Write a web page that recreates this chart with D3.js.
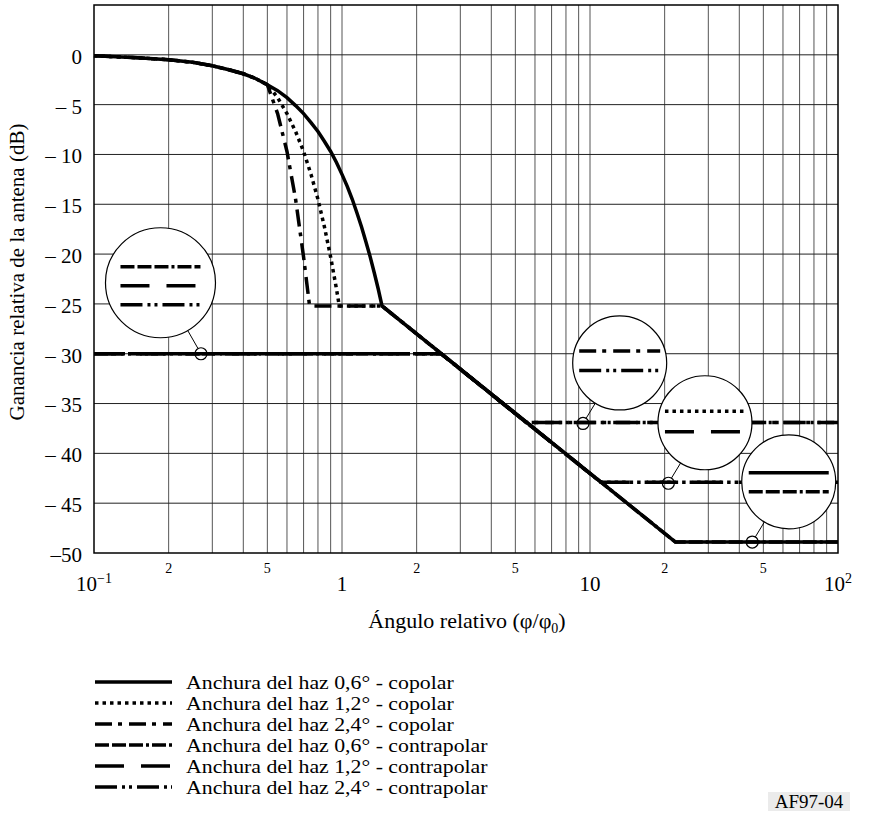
<!doctype html>
<html>
<head>
<meta charset="utf-8">
<script src="https://d3js.org/d3.v7.min.js"></script>
<style>
  body { margin: 0; background: #fff; }
  svg text { font-family: "Liberation Serif", "Times New Roman", serif; fill: #000; }
</style>
</head>
<body>
<div id="chart"></div>
<script>
// values: [phi/phi0, gain dB]
var co06 = [[0.1,-0.1],[0.15,-0.3],[0.2,-0.5],[0.25,-0.75],[0.3,-1.1],[0.35,-1.5],[0.4,-1.9],[0.45,-2.4],
  [0.5,-3.0],[0.55,-3.6],[0.6,-4.3],[0.65,-5.1],[0.7,-5.9],[0.75,-6.8],[0.8,-7.7],[0.85,-8.7],[0.9,-9.7],
  [0.95,-10.8],[1.0,-12.0],[1.05,-13.2],[1.1,-14.5],[1.15,-15.9],[1.2,-17.3],[1.25,-18.8],[1.3,-20.3],
  [1.35,-21.9],[1.4,-23.5],[1.45,-25.2],[22.1,-48.9],[100,-48.9]]
var co12 = [[0.1,-0.1],[0.15,-0.3],[0.2,-0.5],[0.25,-0.75],[0.3,-1.1],[0.35,-1.5],[0.4,-1.9],[0.45,-2.4],
  [0.5,-3.0],[0.55,-4.3],[0.6,-5.9],[0.65,-7.7],[0.7,-9.7],[0.75,-12.0],[0.8,-14.5],[0.85,-17.3],
  [0.9,-20.3],[0.95,-23.5],[0.975,-25.2],[1.45,-25.2],[11.05,-42.9],[100,-42.9]]
var co24 = [[0.1,-0.1],[0.15,-0.3],[0.2,-0.5],[0.25,-0.75],[0.3,-1.1],[0.35,-1.5],[0.4,-1.9],[0.45,-2.4],
  [0.5,-3.0],[0.55,-5.9],[0.6,-9.7],[0.65,-14.5],[0.7,-20.3],[0.74,-25.2],[1.45,-25.2],[5.53,-36.9],[100,-36.9]]
var cx06 = [[0.1,-30],[2.51,-30],[22.1,-48.9],[100,-48.9]]
var cx12 = [[0.1,-30],[2.51,-30],[11.05,-42.9],[100,-42.9]]
var cx24 = [[0.1,-30],[2.51,-30],[5.53,-36.9],[100,-36.9]]

var yTicks = [0,-5,-10,-15,-20,-25,-30,-35,-40,-45,-50]
var yTickLabels = ["0","– 5","– 10","– 15","– 20","– 25","– 30","– 35","– 40","– 45","–50"]
var xMinorTicks = [0.2,0.5,2,5,20,50]
var xMinorLabels = ["2","5","2","5","2","5"]
var xMajorTicks = [0.1,1,10,100]
var xMajorBase = ["10","1","10","10"]
var xMajorExp = ["−1","","","2"]
var legendLabels = ["Anchura del haz 0,6° - copolar","Anchura del haz 1,2° - copolar","Anchura del haz 2,4° - copolar",
  "Anchura del haz 0,6° - contrapolar","Anchura del haz 1,2° - contrapolar","Anchura del haz 2,4° - contrapolar"]

var width = 869, height = 825

var svg = d3.select("#chart").append("svg")
  .attr("width", width).attr("height", height)

var x = d3.scaleLog().domain([0.1, 100]).range([94, 838])
var y = d3.scaleLinear().domain([-50, 5]).range([553, 5])

// line styles
var dashes = ["none", "3.5,4", "17,6,4,7", "14,3,14,3,14,3,3,3", "29,17", "22,5,3,4,3,5"]
var series = [cx06, cx12, cx24, co06, co12, co24]
var seriesStyle = [3, 4, 5, 0, 1, 2]

// grid
var grid = svg.append("g")
grid.selectAll("line.v").data(x.ticks().filter(function(d){ return d > 0.1 && d < 100 }))
  .enter().append("line")
  .attr("x1", function(d){ return x(d) }).attr("x2", function(d){ return x(d) })
  .attr("y1", y(5)).attr("y2", y(-50))
  .attr("stroke", "#555").attr("stroke-width", 1)
grid.selectAll("line.h").data(yTicks.filter(function(d){ return d > -50 }))
  .enter().append("line")
  .attr("x1", x(0.1)).attr("x2", x(100))
  .attr("y1", function(d){ return y(d) }).attr("y2", function(d){ return y(d) })
  .attr("stroke", "#222").attr("stroke-width", 1)
svg.append("rect")
  .attr("x", x(0.1)).attr("y", y(5))
  .attr("width", x(100) - x(0.1)).attr("height", y(-50) - y(5))
  .attr("fill", "none").attr("stroke", "#000").attr("stroke-width", 1.5)

// axes
var yAxis = svg.append("g").attr("transform", "translate(" + x(0.1) + ",0)")
  .call(d3.axisLeft(y).tickValues(yTicks).tickSize(0).tickPadding(12)
    .tickFormat(function(d, i){ return yTickLabels[i] }))
yAxis.select(".domain").remove()
yAxis.selectAll("text").style("font-size", "21px").attr("dy", "0.4em")

svg.selectAll("text.minor").data(xMinorTicks).enter().append("text")
  .attr("x", function(d){ return x(d) }).attr("y", 573)
  .attr("text-anchor", "middle").style("font-size", "14px")
  .text(function(d, i){ return xMinorLabels[i] })

var major = svg.selectAll("text.major").data(xMajorTicks).enter().append("text")
  .attr("x", function(d){ return x(d) }).attr("y", 591)
  .attr("text-anchor", "middle").style("font-size", "21px")
major.append("tspan").text(function(d, i){ return xMajorBase[i] })
major.append("tspan").attr("dy", -8).style("font-size", "14px")
  .text(function(d, i){ return xMajorExp[i] })

svg.append("text")
  .attr("transform", "translate(24,272) rotate(-90)")
  .attr("text-anchor", "middle").style("font-size", "21px")
  .text("Ganancia relativa de la antena (dB)")

var xl = svg.append("text").attr("x", 467).attr("y", 628)
  .attr("text-anchor", "middle").style("font-size", "22px")
xl.append("tspan").text("Ángulo relativo (φ/φ")
xl.append("tspan").attr("dy", 5).style("font-size", "14px").text("0")
xl.append("tspan").attr("dy", -5).text(")")

// curves
var line = d3.line().x(function(d){ return x(d[0]) }).y(function(d){ return y(d[1]) })
svg.selectAll("path.curve").data(series).enter().append("path")
  .attr("d", line)
  .attr("fill", "none").attr("stroke", "#000").attr("stroke-width", 3.5)
  .attr("stroke-dasharray", function(d, i){ return dashes[seriesStyle[i]] })

// callout circles
var callouts = [
  {px: 0.27, py: -30, dx: -40.5, dy: -71, r: 55, rows: [[3, -16], [4, 3], [5, 22]], w: 80},
  {px: 9.37, py: -37, dx: 36.7, dy: -60.5, r: 47, rows: [[2, -12], [5, 7.5]], w: 81},
  {px: 20.7, py: -43, dx: 36.6, dy: -60.5, r: 47, rows: [[1, -11.5], [4, 9]], w: 80},
  {px: 45.1, py: -48.9, dx: 36.5, dy: -60.2, r: 47, rows: [[0, -9], [3, 10]], w: 80}
]
callouts.forEach(function(c){
  var sx = x(c.px), sy = y(c.py)
  var bx = sx + c.dx, by = sy + c.dy
  var len = Math.sqrt(c.dx * c.dx + c.dy * c.dy)
  var ux = c.dx / len, uy = c.dy / len
  var g = svg.append("g")
  g.append("circle").attr("cx", sx).attr("cy", sy).attr("r", 6)
    .attr("fill", "none").attr("stroke", "#000").attr("stroke-width", 1.2)
  g.append("line")
    .attr("x1", sx + ux * 6).attr("y1", sy + uy * 6)
    .attr("x2", bx - ux * c.r).attr("y2", by - uy * c.r)
    .attr("stroke", "#000").attr("stroke-width", 1)
  g.append("circle").attr("cx", bx).attr("cy", by).attr("r", c.r)
    .attr("fill", "#fff").attr("stroke", "#000").attr("stroke-width", 1.2)
  c.rows.forEach(function(row){
    g.append("line")
      .attr("x1", bx - c.w / 2).attr("x2", bx + c.w / 2)
      .attr("y1", by + row[1]).attr("y2", by + row[1])
      .attr("stroke", "#000").attr("stroke-width", 3.5)
      .attr("stroke-dasharray", dashes[row[0]])
  })
})

// legend (text slightly widened like the original print)
var leg = svg.selectAll("g.leg").data(legendLabels).enter().append("g")
  .attr("transform", function(d, i){ return "translate(0," + (682 + i * 21) + ")" })
leg.append("line").attr("x1", 95).attr("x2", 172).attr("y1", 0).attr("y2", 0)
  .attr("stroke", "#000").attr("stroke-width", 3.5)
  .attr("stroke-dasharray", function(d, i){ return dashes[i] })
leg.append("text").attr("transform", "translate(186,7) scale(1.16,1)")
  .style("font-size", "18.8px")
  .text(function(d){ return d })

svg.append("rect").attr("x", 768).attr("y", 792).attr("width", 82).attr("height", 19).attr("fill", "#ebebeb")
svg.append("text").attr("x", 809).attr("y", 808).attr("text-anchor", "middle")
  .style("font-size", "19px").text("AF97-04")
</script>
</body>
</html>
